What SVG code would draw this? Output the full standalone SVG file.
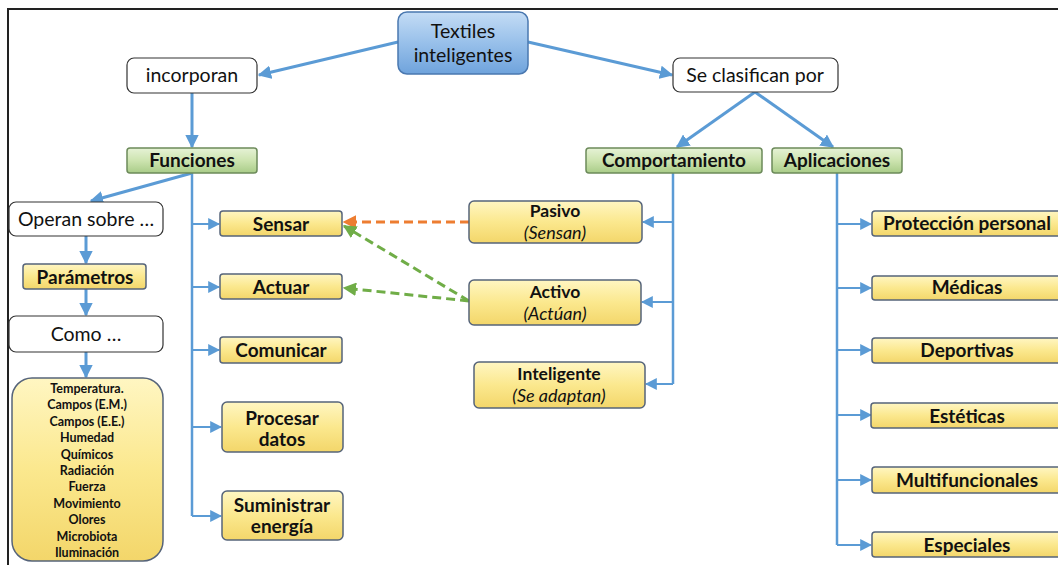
<svg xmlns="http://www.w3.org/2000/svg" width="1058" height="565" viewBox="0 0 1058 565">
  <defs>
    <linearGradient id="gYellow" x1="0" y1="0" x2="0" y2="1">
      <stop offset="0" stop-color="#fff6c2"/>
      <stop offset="0.5" stop-color="#fbe88e"/>
      <stop offset="1" stop-color="#f3d66a"/>
    </linearGradient>
    <linearGradient id="gGreen" x1="0" y1="0" x2="0" y2="1">
      <stop offset="0" stop-color="#e6f2d6"/>
      <stop offset="0.5" stop-color="#cde4b0"/>
      <stop offset="1" stop-color="#a9cc88"/>
    </linearGradient>
    <linearGradient id="gBlue" x1="0" y1="0" x2="0" y2="1">
      <stop offset="0" stop-color="#c4dcf5"/>
      <stop offset="0.5" stop-color="#98c0ea"/>
      <stop offset="1" stop-color="#6fa3dc"/>
    </linearGradient>
    <marker id="aBlue" viewBox="0 0 10 10" refX="9" refY="5" markerWidth="4.5" markerHeight="4.5" orient="auto" markerUnits="strokeWidth">
      <path d="M0,0 L10,5 L0,10 z" fill="#5b9bd5"/>
    </marker>
    <marker id="aBlueS" viewBox="0 0 10 10" refX="9" refY="5" markerWidth="6" markerHeight="6" orient="auto" markerUnits="strokeWidth">
      <path d="M0,0 L10,5 L0,10 z" fill="#5b9bd5"/>
    </marker>
    <marker id="aOrange" viewBox="0 0 10 10" refX="9" refY="5" markerWidth="4.5" markerHeight="4.5" orient="auto" markerUnits="strokeWidth">
      <path d="M0,0 L10,5 L0,10 z" fill="#ed7d31"/>
    </marker>
    <marker id="aGreen" viewBox="0 0 10 10" refX="9" refY="5" markerWidth="4.5" markerHeight="4.5" orient="auto" markerUnits="strokeWidth">
      <path d="M0,0 L10,5 L0,10 z" fill="#70ad47"/>
    </marker>
  </defs>
  <style>
    text { font-family: Lato, "Open Sans", "Liberation Sans", sans-serif; fill: #111; text-anchor: middle; }
    .plain { fill: #fff; stroke: #333; stroke-width: 1.2; }
    .yellow { fill: url(#gYellow); stroke: #56647a; stroke-width: 1.5; }
    .green { fill: url(#gGreen); stroke: #6c8a5a; stroke-width: 1.5; }
    .blue { fill: url(#gBlue); stroke: #4a78b0; stroke-width: 1.5; }
    .t19 { font-size: 19.5px; }
    .b19 { font-size: 19px; font-weight: bold; }
    .b18 { font-size: 17.5px; font-weight: bold; }
    .i18 { font-size: 18px; font-style: italic; }
    .list { font-size: 12.5px; font-weight: bold; }
    .main { fill: none; stroke: #5b9bd5; stroke-width: 3; marker-end: url(#aBlue); }
    .trunk { fill: none; stroke: #5b9bd5; stroke-width: 2.5; }
    .branch { fill: none; stroke: #5b9bd5; stroke-width: 2; marker-end: url(#aBlueS); }
    .dashO { fill: none; stroke: #ed7d31; stroke-width: 3; stroke-dasharray: 9 5; marker-end: url(#aOrange); }
    .dashG { fill: none; stroke: #70ad47; stroke-width: 3; stroke-dasharray: 9 5; marker-end: url(#aGreen); }
  </style>

  <rect width="1058" height="565" fill="#fff"/>
  <!-- outer frame -->
  <path d="M8,565 L8,9 L1058,9" fill="none" stroke="#222" stroke-width="2"/>

  <g id="connectors">
    <line class="main" x1="398" y1="42" x2="259" y2="75"/>
    <line class="main" x1="528" y1="42" x2="672" y2="75"/>
    <line class="main" x1="192" y1="93" x2="192" y2="147"/>
    <line class="main" x1="755" y1="92" x2="677" y2="147"/>
    <line class="main" x1="755" y1="92" x2="833" y2="147"/>
    <line class="main" x1="192" y1="173" x2="91" y2="201"/>
    <line class="main" x1="86" y1="236" x2="86" y2="263"/>
    <line class="main" x1="86" y1="289" x2="86" y2="315"/>
    <line class="main" x1="86" y1="352" x2="86" y2="377"/>
    <!-- Funciones trunk -->
    <polyline class="trunk" points="192,173 192,516"/>
    <line class="branch" x1="192" y1="224" x2="219" y2="224"/>
    <line class="branch" x1="192" y1="287" x2="219" y2="287"/>
    <line class="branch" x1="192" y1="350" x2="219" y2="350"/>
    <line class="branch" x1="192" y1="427" x2="221" y2="427"/>
    <line class="branch" x1="192" y1="516" x2="221" y2="516"/>
    <!-- Comportamiento trunk -->
    <polyline class="trunk" points="673,173 673,384"/>
    <line class="branch" x1="673" y1="222" x2="643" y2="222"/>
    <line class="branch" x1="673" y1="302" x2="642" y2="302"/>
    <line class="branch" x1="673" y1="384" x2="646" y2="384"/>
    <!-- Aplicaciones trunk -->
    <polyline class="trunk" points="837,173 837,545"/>
    <line class="branch" x1="837" y1="224" x2="871" y2="224"/>
    <line class="branch" x1="837" y1="288" x2="871" y2="288"/>
    <line class="branch" x1="837" y1="350" x2="871" y2="350"/>
    <line class="branch" x1="837" y1="415" x2="871" y2="415"/>
    <line class="branch" x1="837" y1="480" x2="871" y2="480"/>
    <line class="branch" x1="837" y1="545" x2="871" y2="545"/>
    <!-- behaviour links -->
    <line class="dashO" x1="469" y1="222" x2="344" y2="222"/>
    <line class="dashG" x1="469" y1="301" x2="344" y2="226"/>
    <line class="dashG" x1="469" y1="301" x2="344" y2="288"/>
  </g>

  <g id="textiles">
    <rect class="blue" x="398" y="12" width="130" height="62" rx="9"/>
    <text class="t19" x="463" y="38">Textiles</text>
    <text class="t19" x="463" y="62">inteligentes</text>
  </g>
  <g id="incorporan">
    <rect class="plain" x="127" y="58" width="130" height="35" rx="7"/>
    <text class="t19" x="192" y="82">incorporan</text>
  </g>
  <g id="clasifican">
    <rect class="plain" x="673" y="58" width="165" height="34" rx="7"/>
    <text class="t19" x="755" y="82">Se clasifican por</text>
  </g>
  <g id="funciones">
    <rect class="green" x="127" y="148" width="130" height="25" rx="3"/>
    <text class="b19" x="192" y="167">Funciones</text>
  </g>
  <g id="comportamiento">
    <rect class="green" x="586" y="148" width="176" height="25" rx="3"/>
    <text class="b19" x="674" y="167">Comportamiento</text>
  </g>
  <g id="aplicaciones">
    <rect class="green" x="772" y="148" width="130" height="25" rx="3"/>
    <text class="b19" x="837" y="167">Aplicaciones</text>
  </g>

  <g id="operan">
    <rect class="plain" x="9" y="202" width="154" height="34" rx="7"/>
    <text class="t19" x="86" y="226">Operan sobre …</text>
  </g>
  <g id="parametros">
    <rect class="yellow" x="23" y="264" width="123" height="25" rx="3"/>
    <text class="b19" x="85" y="284">Parámetros</text>
  </g>
  <g id="como">
    <rect class="plain" x="9" y="316" width="154" height="36" rx="7"/>
    <text class="t19" x="86" y="341">Como …</text>
  </g>
  <g id="lista">
    <rect class="yellow" x="12" y="378" width="151" height="183" rx="20"/>
    <text class="list" x="87" y="393">Temperatura.</text>
    <text class="list" x="87" y="409.4">Campos (E.M.)</text>
    <text class="list" x="87" y="425.8">Campos (E.E.)</text>
    <text class="list" x="87" y="442.2">Humedad</text>
    <text class="list" x="87" y="458.6">Químicos</text>
    <text class="list" x="87" y="475">Radiación</text>
    <text class="list" x="87" y="491.4">Fuerza</text>
    <text class="list" x="87" y="507.8">Movimiento</text>
    <text class="list" x="87" y="524.2">Olores</text>
    <text class="list" x="87" y="540.6">Microbiota</text>
    <text class="list" x="87" y="557">Iluminación</text>
  </g>

  <g id="sensar">
    <rect class="yellow" x="220" y="211" width="122" height="25" rx="3"/>
    <text class="b19" x="281" y="231">Sensar</text>
  </g>
  <g id="actuar">
    <rect class="yellow" x="220" y="274" width="122" height="25" rx="3"/>
    <text class="b19" x="281" y="294">Actuar</text>
  </g>
  <g id="comunicar">
    <rect class="yellow" x="220" y="337" width="122" height="26" rx="3"/>
    <text class="b19" x="281" y="357">Comunicar</text>
  </g>
  <g id="procesar">
    <rect class="yellow" x="222" y="402" width="121" height="50" rx="5"/>
    <text class="b19" x="282" y="425">Procesar</text>
    <text class="b19" x="282" y="446">datos</text>
  </g>
  <g id="suministrar">
    <rect class="yellow" x="222" y="491" width="121" height="49" rx="5"/>
    <text class="b19" x="282" y="512">Suministrar</text>
    <text class="b19" x="282" y="533">energía</text>
  </g>

  <g id="pasivo">
    <rect class="yellow" x="469" y="201" width="173" height="42" rx="5"/>
    <text class="b18" x="555" y="217">Pasivo</text>
    <text class="i18" x="555" y="239">(Sensan)</text>
  </g>
  <g id="activo">
    <rect class="yellow" x="469" y="280" width="172" height="45" rx="5"/>
    <text class="b18" x="555" y="298">Activo</text>
    <text class="i18" x="555" y="320">(Actúan)</text>
  </g>
  <g id="inteligente">
    <rect class="yellow" x="474" y="362" width="171" height="46" rx="5"/>
    <text class="b18" x="559" y="380">Inteligente</text>
    <text class="i18" x="559" y="402">(Se adaptan)</text>
  </g>

  <g id="proteccion">
    <rect class="yellow" x="872" y="211" width="192" height="25" rx="3"/>
    <text class="b19" x="967" y="230">Protección personal</text>
  </g>
  <g id="medicas">
    <rect class="yellow" x="872" y="276" width="192" height="24" rx="3"/>
    <text class="b19" x="967" y="294">Médicas</text>
  </g>
  <g id="deportivas">
    <rect class="yellow" x="872" y="338" width="192" height="25" rx="3"/>
    <text class="b19" x="967" y="357">Deportivas</text>
  </g>
  <g id="esteticas">
    <rect class="yellow" x="871" y="403" width="193" height="25" rx="3"/>
    <text class="b19" x="967" y="423">Estéticas</text>
  </g>
  <g id="multifuncionales">
    <rect class="yellow" x="872" y="467" width="192" height="26" rx="3"/>
    <text class="b19" x="967" y="487">Multifuncionales</text>
  </g>
  <g id="especiales">
    <rect class="yellow" x="872" y="532" width="192" height="25" rx="3"/>
    <text class="b19" x="967" y="552">Especiales</text>
  </g>
</svg>
